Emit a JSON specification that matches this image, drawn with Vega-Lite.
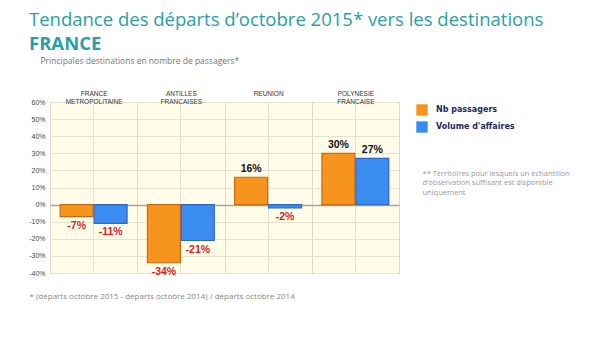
{
  "$schema": "https://vega.github.io/schema/vega-lite/v6.json",
  "width": 349,
  "height": 171,
  "autosize": {"type": "none"},
  "padding": {"left": 50, "top": 102, "right": 201, "bottom": 76},
  "background": "white",
  "title": {
    "text": "Tendance des départs d’octobre 2015* vers les destinations",
    "subtitle": "FRANCE",
    "anchor": "start",
    "frame": "group",
    "dx": -21,
    "font": "Open Sans",
    "fontSize": 18.5,
    "fontWeight": "normal",
    "color": "#2A9EA6",
    "subtitleFont": "Open Sans",
    "subtitleFontSize": 18.5,
    "subtitleFontWeight": "bold",
    "subtitleColor": "#2A9EA6",
    "subtitlePadding": 5,
    "offset": 3
  },
  "config": {
    "view": {"fill": "#FFFDE9", "stroke": "#D8D6C8"},
    "axis": {"labelFont": "Liberation Sans", "titleFont": "Open Sans"}
  },
  "data": {
    "values": [
      {"dest": "FRANCE|METROPOLITAINE", "series": "Nb passagers", "value": -7, "label": "-7%"},
      {"dest": "FRANCE|METROPOLITAINE", "series": "Volume d'affaires", "value": -11, "label": "-11%"},
      {"dest": "ANTILLES|FRANCAISES", "series": "Nb passagers", "value": -34, "label": "-34%"},
      {"dest": "ANTILLES|FRANCAISES", "series": "Volume d'affaires", "value": -21, "label": "-21%"},
      {"dest": "REUNION", "series": "Nb passagers", "value": 16, "label": "16%"},
      {"dest": "REUNION", "series": "Volume d'affaires", "value": -2, "label": "-2%"},
      {"dest": "POLYNESIE|FRANCAISE", "series": "Nb passagers", "value": 30, "label": "30%"},
      {"dest": "POLYNESIE|FRANCAISE", "series": "Volume d'affaires", "value": 27, "label": "27%"}
    ]
  },
  "encoding": {
    "x": {
      "field": "dest",
      "type": "nominal",
      "sort": null,
      "scale": {"paddingInner": 0, "paddingOuter": 0}
    },
    "xOffset": {
      "field": "series",
      "type": "nominal",
      "sort": ["Nb passagers", "Volume d'affaires"],
      "scale": {"paddingInner": 0.03, "paddingOuter": 0.3}
    },
    "y": {
      "field": "value",
      "type": "quantitative",
      "scale": {"domain": [-40, 60], "nice": false, "zero": false}
    }
  },
  "layer": [
    {
      "mark": {"type": "bar", "strokeWidth": 1.2},
      "encoding": {
        "x": {
          "field": "dest",
          "type": "nominal",
          "sort": null,
          "axis": {
            "orient": "top",
            "title": "Principales destinations en nombre de passagers*",
            "titleFontSize": 8.5,
            "titleFontWeight": "normal",
            "titleColor": "#777777",
            "titleAnchor": "start",
            "titleAlign": "left",
            "titleX": -10,
            "titleY": -42,
            "titleBaseline": "middle",
            "labelExpr": "split(datum.label, '|')",
            "labelAngle": 0,
            "labelFontSize": 6.5,
            "labelColor": "#333333",
            "labelLineHeight": 8,
            "labelPadding": 6,
            "ticks": false,
            "domain": false,
            "grid": true,
            "tickBand": "extent",
            "gridColor": "#DEDBC6",
            "gridWidth": 1
          }
        },
        "y": {
          "field": "value",
          "type": "quantitative",
          "axis": {
            "title": null,
            "values": [-40, -30, -20, -10, 0, 10, 20, 30, 40, 50, 60],
            "labelExpr": "datum.value + '%'",
            "labelFontSize": 7,
            "labelColor": "#444444",
            "labelPadding": 5,
            "ticks": false,
            "domain": false,
            "grid": true,
            "gridColor": {"condition": {"test": "datum.value === 0", "value": "#A8A69A"}, "value": "#E6E3CC"},
            "gridWidth": {"condition": {"test": "datum.value === 0", "value": 1.3}, "value": 1}
          }
        },
        "color": {
          "field": "series",
          "type": "nominal",
          "sort": ["Nb passagers", "Volume d'affaires"],
          "scale": {"domain": ["Nb passagers", "Volume d'affaires"], "range": ["#F7941E", "#3A8CF0"]},
          "legend": {
            "title": null,
            "orient": "none",
            "legendX": 366,
            "legendY": 2,
            "symbolType": "square",
            "symbolSize": 130,
            "symbolOpacity": 1,
            "symbolStrokeWidth": 0,
            "labelFont": "DejaVu Sans",
            "labelFontSize": 8,
            "labelFontWeight": "bold",
            "labelColor": "#1F2A5C",
            "labelOffset": 8,
            "rowPadding": 5
          }
        },
        "stroke": {
          "field": "series",
          "type": "nominal",
          "scale": {"domain": ["Nb passagers", "Volume d'affaires"], "range": ["#C86A14", "#2C68BE"]},
          "legend": null
        }
      }
    },
    {
      "transform": [{"filter": "datum.value >= 0"}],
      "mark": {"type": "text", "baseline": "bottom", "dy": -3, "font": "Liberation Sans", "fontSize": 10.5, "fontWeight": "bold", "color": "#111111"},
      "encoding": {
        "x": {
          "field": "dest",
          "type": "nominal",
          "sort": null,
          "axis": {
            "orient": "bottom",
            "title": "* (départs octobre 2015 - départs octobre 2014) / départs octobre 2014",
            "titleFont": "Open Sans",
            "titleFontSize": 8,
            "titleFontWeight": "normal",
            "titleColor": "#888888",
            "titleAnchor": "start",
            "titleAlign": "left",
            "titleX": -21,
            "titleY": 23,
            "titleBaseline": "middle",
            "labels": false,
            "ticks": false,
            "domain": false,
            "grid": true,
            "gridColor": "#E6E3CC"
          }
        },
        "y": {
          "field": "value",
          "type": "quantitative",
          "axis": {
            "orient": "right",
            "title": ["** Territoires pour lesquels un échantillon", "d’observation suffisant est disponible", "uniquement"],
            "titleFont": "Open Sans",
            "titleFontSize": 7.5,
            "titleFontWeight": "normal",
            "titleColor": "#999999",
            "titleAngle": 0,
            "titleAlign": "left",
            "titleBaseline": "top",
            "titleX": 23,
            "titleY": 67,
            "titleLineHeight": 9.5,
            "labels": false,
            "ticks": false,
            "domain": false,
            "grid": false
          }
        },
        "text": {"field": "label", "type": "nominal"}
      }
    },
    {
      "transform": [{"filter": "datum.value < 0"}],
      "mark": {"type": "text", "baseline": "top", "dy": 4, "font": "Liberation Sans", "fontSize": 10.5, "fontWeight": "bold", "color": "#D3231E"},
      "encoding": {
        "x": {"field": "dest", "type": "nominal", "sort": null, "axis": null},
        "y": {"field": "value", "type": "quantitative", "axis": null},
        "text": {"field": "label", "type": "nominal"}
      }
    }
  ],
  "resolve": {"axis": {"x": "independent", "y": "independent"}}
}
